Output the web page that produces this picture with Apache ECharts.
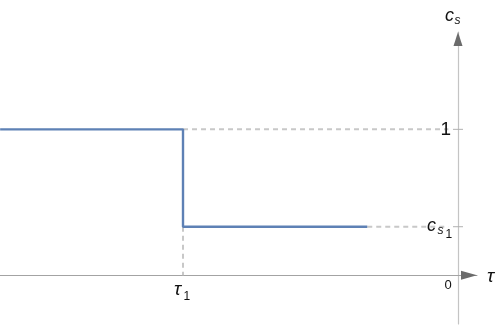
<!DOCTYPE html>
<html><head><meta charset="utf-8">
<script src="https://cdn.jsdelivr.net/npm/echarts@6/dist/echarts.min.js"></script>
<style>html,body{margin:0;padding:0;background:#fff}#c{width:498px;height:327px}</style>
</head><body><div id="c"></div>
<script>
// data
const stepX = [-1.665, -1, -1, -0.33];
const stepY = [1, 1, 0.333, 0.333];
const tau1 = -1;
const cs1 = 0.333;
const yTicks = [1, 0.333];
const xRange = [-1.6655, 0.0691];
const yRange = [-0.3333, 1.6667];

const chart = echarts.init(document.getElementById('c'), null, {renderer: 'canvas'});
const dash = {color: '#c8c8c8', width: 2, type: [5, 4]};
chart.setOption({
  animation: false,
  grid: {left: 0, right: 21, top: 32, bottom: 3},
  xAxis: {type: 'value', min: xRange[0], max: xRange[1],
    axisLine: {onZero: true, lineStyle: {color: '#a3a3a3', width: 1}},
    axisTick: {show: false}, axisLabel: {show: false}, splitLine: {show: false}},
  yAxis: {type: 'value', min: yRange[0], max: yRange[1],
    axisLine: {onZero: true, lineStyle: {color: '#c4c4c4', width: 1.2}},
    axisTick: {show: false}, axisLabel: {show: false}, splitLine: {show: false}},
  series: [
    {type: 'line', data: [[tau1, 1], [-0.035, 1]], symbol: 'none', lineStyle: dash, z: 1},
    {type: 'line', data: [[stepX[3], cs1], [-0.035, cs1]], symbol: 'none', lineStyle: dash, z: 1},
    {type: 'line', data: [[tau1, cs1], [tau1, 0]], symbol: 'none', lineStyle: dash, z: 1},
    {type: 'line', data: stepX.map((x, i) => [x, stepY[i]]), symbol: 'none',
      lineStyle: {color: '#5e81b5', width: 2.4}, z: 3}
  ]
});

function px(x, y) { return chart.convertToPixel({gridIndex: 0}, [x, y]); }
const O = px(0, 0);
const P1 = px(0, 1);
const Pc = px(0, cs1);
const T1 = px(tau1, 0);
const topPt = px(0, yRange[1]);
const rightPt = px(xRange[1], 0);
const FF = '"Liberation Sans", Arial, sans-serif';
function txt(s, x, y, size, italic, align) {
  return {type: 'text', x: x, y: y, z: 10,
    style: {text: s, fontSize: size, fontFamily: FF, fontStyle: italic ? 'italic' : 'normal',
      fill: '#111', textAlign: align || 'left', textVerticalAlign: 'middle'}};
}
const g = [];
// arrows
g.push({type: 'polygon', z: 9, shape: {points: [[topPt[0], topPt[1]], [topPt[0] - 4.5, topPt[1] + 14], [topPt[0] + 4.5, topPt[1] + 14]]}, style: {fill: '#6b6b6b'}});
g.push({type: 'polygon', z: 9, shape: {points: [[rightPt[0], rightPt[1]], [rightPt[0] - 16, rightPt[1] - 4.5], [rightPt[0] - 16, rightPt[1] + 4.5]]}, style: {fill: '#6b6b6b'}});
// y ticks
yTicks.forEach(v => {
  const p = px(0, v);
  g.push({type: 'line', z: 8, shape: {x1: p[0] - 5, y1: p[1], x2: p[0] + 5, y2: p[1]}, style: {stroke: '#b0b0b0', lineWidth: 1}});
});
// labels
g.push(txt('1', P1[0] - 7, P1[1] + 0.5, 19, false, 'right'));
g.push(txt('c', Pc[0] - 31, Pc[1] - 1, 18, true));
g.push(txt('s', Pc[0] - 20.5, Pc[1] + 3.5, 12, true));
g.push(txt('1', Pc[0] - 12.5, Pc[1] + 8, 12, false));
g.push(txt('c', topPt[0] - 13, topPt[1] - 16, 18, true));
g.push(txt('s', topPt[0] - 3.5, topPt[1] - 11.5, 12, true));
g.push(txt('τ', rightPt[0] + 10, O[1] + 1, 19, true));
g.push(txt('0', O[0] - 10, O[1] + 10.5, 13, false, 'center'));
g.push(txt('τ', T1[0] - 9, T1[1] + 14.5, 19, true));
g.push(txt('1', T1[0] + 0.5, T1[1] + 21, 12, false));
chart.setOption({graphic: g});
</script></body></html>
